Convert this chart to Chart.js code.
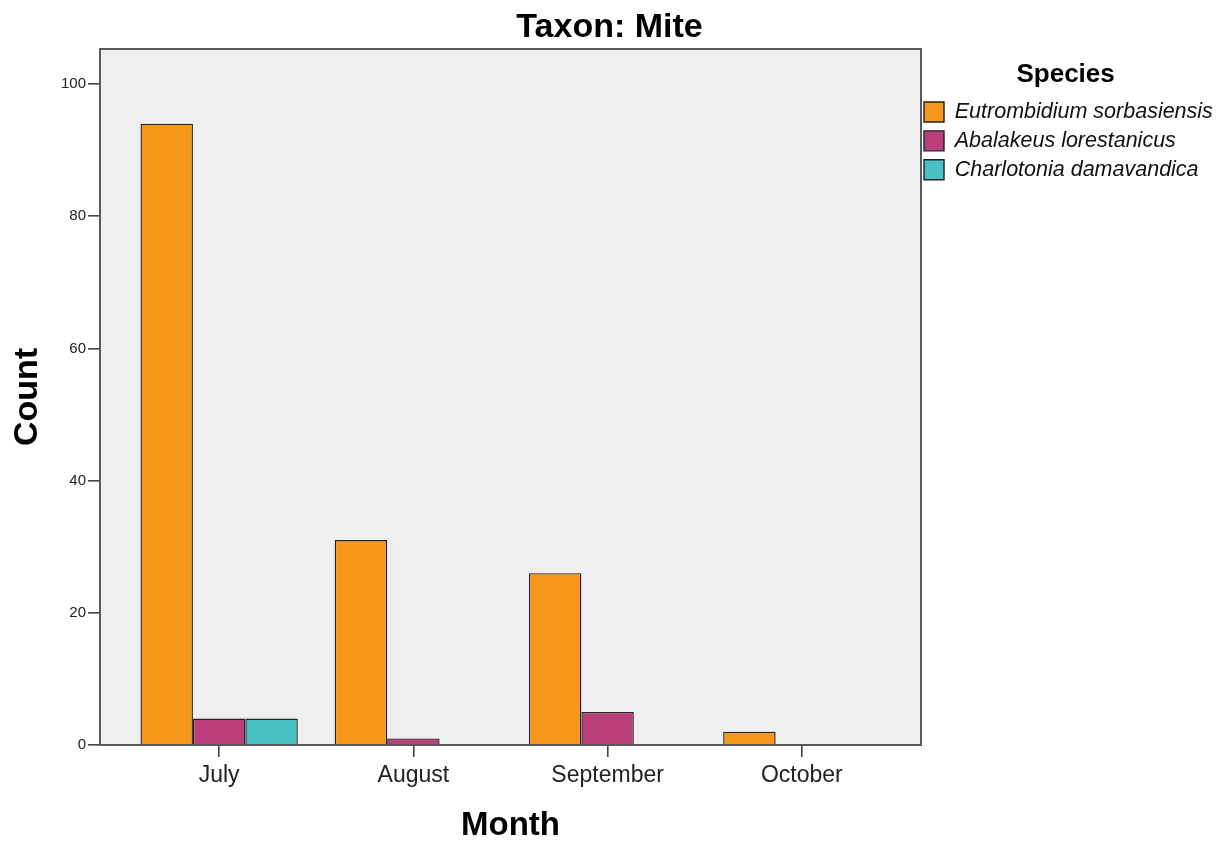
<!DOCTYPE html>
<html><head><meta charset="utf-8">
<script src="https://cdn.jsdelivr.net/npm/chart.js@4.4.0/dist/chart.umd.min.js"></script>
<style>html,body{margin:0;padding:0;background:#fff}#wrap{width:1219px;height:843px}</style>
</head><body><div id="wrap"><canvas id="c" width="1219" height="843"></canvas></div>
<script>
const months = ['July', 'August', 'September', 'October'];
const speciesNames = ['Eutrombidium sorbasiensis', 'Abalakeus lorestanicus', 'Charlotonia damavandica'];
const eutrombidium = [94, 31, 26, 2];
const abalakeus = [4, 1, 5, null];
const charlotonia = [4, null, null, null];
const yTicks = [0, 20, 40, 60, 80, 100];
const colors = ['#F7981D', '#BA3F7A', '#48C1C5'];

const FONT = "Arial, 'Liberation Sans', sans-serif";
const X_PAD = 0.1134; // extra category units at both ends of the x axis
const LEGEND_WIDTH = 298;
const LEGEND_SHIFT = -4.4;

const frame = {
  id: 'frame',
  beforeDatasetsDraw(chart) {
    const a = chart.chartArea, ctx = chart.ctx;
    ctx.save(); ctx.fillStyle = '#EFEFEF';
    ctx.fillRect(a.left, a.top, a.right - a.left, a.bottom - a.top);
    ctx.restore();
  },
  afterDatasetsDraw(chart) {
    const a = chart.chartArea, ctx = chart.ctx;
    ctx.save(); ctx.strokeStyle = '#5a5a5a'; ctx.lineWidth = 2;
    ctx.strokeRect(a.left, a.top, a.right - a.left, a.bottom - a.top);
    ctx.restore();
  }
};

const legendFix = {
  id: 'legendFix',
  afterInit(chart) {
    const L = chart.legend;
    const fit = L.fit.bind(L);
    L.fit = function () { fit(); this.width = LEGEND_WIDTH; };
    const draw = L.draw.bind(L);
    L.draw = function () {
      const ctx = chart.ctx; ctx.save(); ctx.translate(LEGEND_SHIFT, 0); draw(); ctx.restore();
    };
  }
};

const series = [eutrombidium, abalakeus, charlotonia];
const chart = new Chart(document.getElementById('c'), {
  type: 'bar',
  data: {
    labels: months,
    datasets: series.map((d, i) => ({
      label: speciesNames[i], data: d, backgroundColor: colors[i],
      borderColor: '#222', borderWidth: 1.4, borderSkipped: 'bottom',
      categoryPercentage: 0.81, barPercentage: 1
    }))
  },
  plugins: [frame, legendFix],
  options: {
    responsive: false, animation: false,
    layout: { padding: { left: 0, right: 0, top: 0, bottom: 0 } },
    plugins: {
      title: { display: true, text: 'Taxon: Mite', color: '#000',
        font: { family: FONT, size: 34, weight: 'bold' }, padding: { top: 7, bottom: 1.2 } },
      legend: {
        position: 'right', align: 'start',
        title: { display: true, text: 'Species', color: '#000',
          font: { family: FONT, size: 26, weight: 'bold' }, padding: { top: 62, bottom: 0.6 } },
        labels: { boxWidth: 20, boxHeight: 20, padding: 7.4, color: '#111',
          font: { family: FONT, size: 21.5, style: 'italic' } }
      },
      tooltip: { enabled: false }
    },
    scales: {
      x: {
        afterBuildTicks(s) { s._startValue -= X_PAD; s._valueRange += 2 * X_PAD; },
        grid: { display: true, offset: false, drawOnChartArea: false, drawTicks: true, tickLength: 12, color: '#444', lineWidth: 1.6 },
        border: { display: false },
        ticks: { color: '#222', font: { family: FONT, size: 23 }, padding: 5 },
        title: { display: true, text: 'Month', color: '#000', font: { family: FONT, size: 33, weight: 'bold' }, padding: { top: 4, bottom: -3 } },
        afterFit(s) { s.height = 98; }
      },
      y: {
        min: 0, max: 105.3,
        afterBuildTicks(s) { s.ticks = yTicks.map(v => ({ value: v })); },
        grid: { display: true, drawOnChartArea: false, drawTicks: true, tickLength: 12, color: '#444', lineWidth: 1.6 },
        border: { display: false },
        ticks: { color: '#222', font: { family: FONT, size: 15 }, padding: 2 },
        title: { display: true, text: 'Count', color: '#000', font: { family: FONT, size: 34, weight: 'bold' }, padding: { top: 7, bottom: 4 } },
        afterFit(s) { s.width = 100; }
      }
    }
  }
});
</script></body></html>
